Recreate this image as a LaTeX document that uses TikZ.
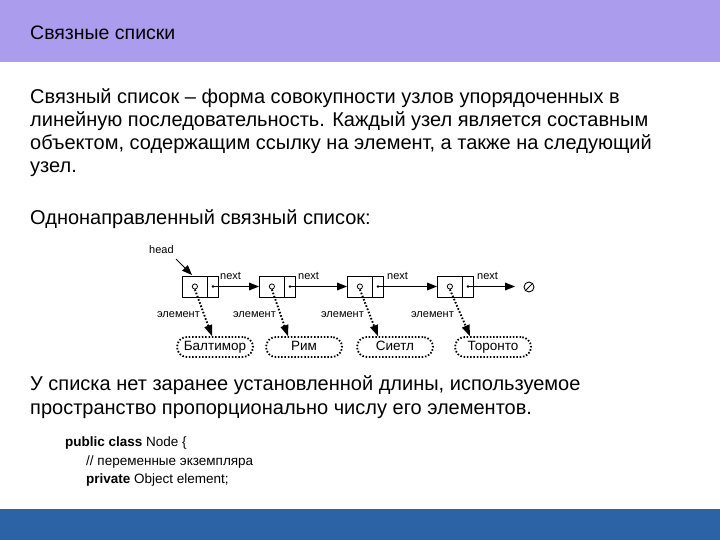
\documentclass[tikz,border=0pt]{standalone}
\usepackage{fontspec}
\setmainfont{Liberation Sans}
\usetikzlibrary{calc}
\definecolor{hdr}{RGB}{172,156,238}
\definecolor{bar}{RGB}{44,99,166}
\tikzset{
  body/.style={anchor=base west, inner sep=0pt, font=\fontsize{20}{23}\selectfont},
  code/.style={anchor=base west, inner sep=0pt, font=\fontsize{13.5}{16}\selectfont},
  lcell/.style={draw, line width=0.8pt, minimum width=25pt, minimum height=21pt, inner sep=0pt, anchor=west},
  rcell/.style={draw, line width=0.8pt, minimum width=11pt, minimum height=21pt, inner sep=0pt, anchor=west},
  small/.style={inner sep=0pt, font=\fontsize{11}{13}\selectfont},
  oval/.style={draw, line width=1.8pt, dash pattern=on 1.5pt off 1.8pt, rounded corners=10pt, minimum width=76pt, minimum height=20pt, inner sep=0pt, text height=9.5pt, text depth=2.5pt, font=\fontsize{13.5}{15}\selectfont},
  nextline/.style={line width=0.9pt},
  elline/.style={line width=1.9pt, dash pattern=on 1.6pt off 1.8pt},
}
% horizontal solid arrow connector: #1 start, #2 end (pointing right)
\newcommand\harrow[2]{%
  \draw[nextline] (#1) -- ([xshift=-9pt]#2);
  \fill (#2) -- ++(-10pt,4pt) -- ++(0pt,-8pt) -- cycle;}
% oblique solid arrow connector
\newcommand\solidarrow[2]{%
  \draw[nextline] (#1) -- ($(#2)!9pt!(#1)$);
  \fill (#2) -- ($(#2)!10pt!(#1)!4pt!90:(#1)$) -- ($(#2)!10pt!(#1)!4pt!-90:(#1)$) -- cycle;}
% dotted arrow connector
\newcommand\dotarrow[2]{%
  \draw[elline] (#1) -- ($(#2)!9pt!(#1)$);
  \fill (#2) -- ($(#2)!11pt!(#1)!4.2pt!90:(#1)$) -- ($(#2)!11pt!(#1)!4.2pt!-90:(#1)$) -- cycle;}
\begin{document}
\begin{tikzpicture}[x=1pt,y=-1pt]
\useasboundingbox (0,0) rectangle (720,540);
\fill[hdr] (0,0) rectangle (720,62);
\fill[bar] (0,509) rectangle (720,540);
\node[anchor=base west, inner sep=0pt, font=\fontsize{19.5}{22}\selectfont] (title) at (30,40) {Связные списки};

\node[body] (t1) at (30,104) {Связный список – форма совокупности узлов упорядоченных в};
\node[body] (t2) at (30,127) {линейную последовательность. Каждый узел является составным};
\node[body] (t3) at (30,150) {объектом, содержащим ссылку на элемент, а также на следующий};
\node[body] (t4) at (30,173) {узел.};
\node[body] (t5) at (30,225) {Однонаправленный связный список:};
\node[body] (t6) at (30,390) {У списка нет заранее установленной длины, используемое};
\node[body] (t7) at (30,414) {пространство пропорционально числу его элементов.};

% list nodes
\foreach \i/\x in {1/182,2/259,3/347,4/437}{
  \node[lcell] (c\i) at (\x,286.5) {};
  \node[rcell] (p\i) at (\x+25,286.5) {};
  \draw[line width=0.8pt] (c\i.center) circle (2.6pt);
  \fill (p\i.center) circle (1.4pt);
}
% ovals
\node[oval] (o1) at (215,347) {Балтимор};
\node[oval] (o2) at (304,347) {Рим};
\node[oval] (o3) at (395,347) {Сиетл};
\node[oval] (o4) at (493,347) {Торонто};

% next arrows
\coordinate (nullend) at (515,286.5);
\harrow{p1.center}{c2.west}
\harrow{p2.center}{c3.west}
\harrow{p3.center}{c4.west}
\harrow{p4.center}{nullend}
\node[small, anchor=south west] (n1) at (220,280) {next};
\node[small, anchor=south west] (n2) at (298,280) {next};
\node[small, anchor=south west] (n3) at (387,280) {next};
\node[small, anchor=south west] (n4) at (477,280) {next};

% null
\node[draw, circle, line width=0.9pt, minimum size=10pt, inner sep=0pt] (nil) at (529,287) {};
\draw[line width=0.9pt] (nil.north east) -- (nil.south west);

% head
\node[small, anchor=base west] (head) at (149,253) {head};
\coordinate (headstart) at (176,259);
\coordinate (headend) at (192,275);
\solidarrow{headstart}{headend}

% element arrows
\foreach \i/\dx in {1/-3,2/-16,3/-17,4/-23}{
  \coordinate (es\i) at ([yshift=-3pt]c\i.center);
  \coordinate (ee\i) at ([xshift=\dx pt]o\i.north);
  \dotarrow{es\i}{ee\i}
}
\node[small, anchor=east] (e1) at (200,315) {элемент};
\node[small, anchor=east] (e2) at (276,315) {элемент};
\node[small, anchor=east] (e3) at (364,315) {элемент};
\node[small, anchor=east] (e4) at (454,315) {элемент};

% code
\node[code] (k1) at (65,446) {\textbf{public class} Node \{};
\node[code] (k2) at (86,465) {// переменные экземпляра};
\node[code] (k3) at (86,483) {\textbf{private} Object element;};
\end{tikzpicture}
\end{document}
